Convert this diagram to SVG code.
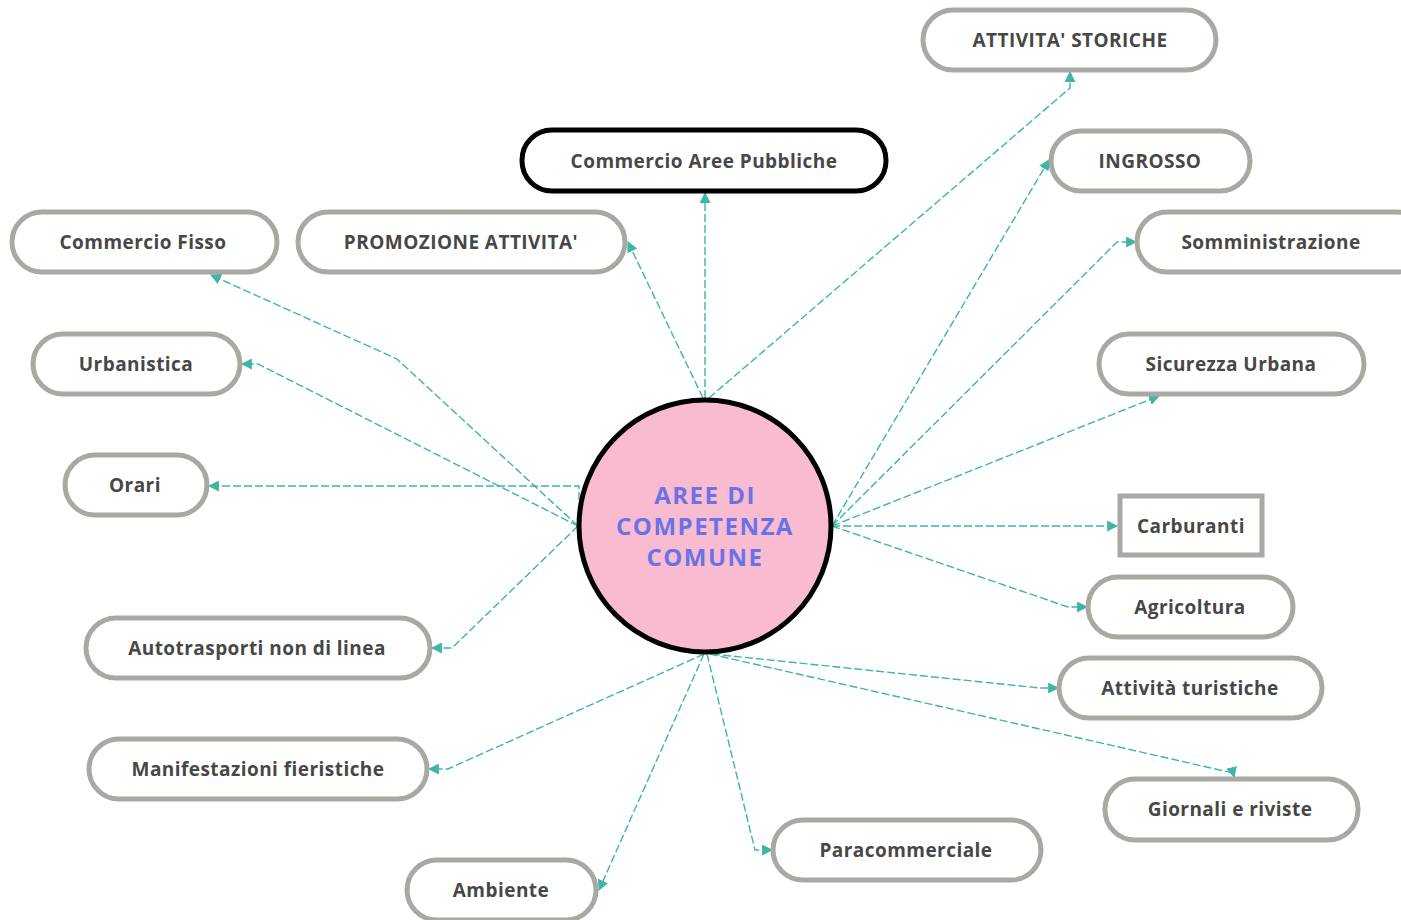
<svg xmlns="http://www.w3.org/2000/svg" width="1401" height="920" viewBox="0 0 1401 920">
<style>
.pill{fill:#ffffff;stroke:#a9a8a2;stroke-width:5}
.dark{fill:#ffffff;stroke:#000000;stroke-width:5}
.lbl{font-family:"Open Sans","Liberation Sans",sans-serif;font-weight:700;font-size:19px;letter-spacing:0.45px;fill:#474747;text-anchor:middle;dominant-baseline:central}
.ctr{font-family:"Open Sans","Liberation Sans",sans-serif;font-weight:700;font-size:24px;letter-spacing:1.5px;fill:#6b72e8;text-anchor:middle;dominant-baseline:central}
.con{fill:none;stroke:#3db5a7;stroke-width:1.4;stroke-dasharray:8 3;marker-end:url(#arr)}
</style>
<defs>
<marker id="arr" viewBox="0 0 10 10" refX="9" refY="5" markerWidth="11" markerHeight="11" markerUnits="userSpaceOnUse" orient="auto">
<path d="M0,0 L10,5 L0,10 Z" fill="#3db5a7"/>
</marker>
</defs>
<rect width="1401" height="920" fill="#ffffff"/>
<g id="connectors">
<path class="con" d="M705,398 L705,193"/>
<path class="con" d="M703,398 L628,242"/>
<path class="con" d="M709,398 L1070,88 L1070,72"/>
<path class="con" d="M578,526 L397,359 L211,275"/>
<path class="con" d="M578,526 L258,364 L242,364"/>
<path class="con" d="M579,500 L579,486 L209,486"/>
<path class="con" d="M578,526 L452,648 L432,648"/>
<path class="con" d="M704,654 L448,769 L429,769"/>
<path class="con" d="M704,654 L599,890"/>
<path class="con" d="M707,654 L755,850 L772,850"/>
<path class="con" d="M710,654 L1233,773 L1234,777"/>
<path class="con" d="M712,654 L1040,688 L1058,688"/>
<path class="con" d="M832,526 L1068,607 L1087,607"/>
<path class="con" d="M832,526 L1117,526"/>
<path class="con" d="M832,526 L1159,396"/>
<path class="con" d="M832,526 L1117,242 L1136,242"/>
<path class="con" d="M832,526 L1049,160"/>
</g>
<g id="center">
<circle cx="705" cy="526" r="126" fill="#f9bbd0" stroke="#000000" stroke-width="5"/>
<text class="ctr" x="705" y="494">AREE DI</text>
<text class="ctr" x="705" y="525">COMPETENZA</text>
<text class="ctr" x="705" y="556">COMUNE</text>
</g>
<g id="n-attivita-storiche"><rect class="pill" x="923" y="10" width="293" height="60" rx="30"/><text class="lbl" x="1070" y="40">ATTIVITA' STORICHE</text></g>
<g id="n-commercio-aree"><rect class="dark" x="522" y="130" width="364" height="61" rx="30"/><text class="lbl" x="704" y="161">Commercio Aree Pubbliche</text></g>
<g id="n-ingrosso"><rect class="pill" x="1051" y="131" width="199" height="60" rx="30"/><text class="lbl" x="1150" y="161">INGROSSO</text></g>
<g id="n-commercio-fisso"><rect class="pill" x="12" y="212" width="265" height="60" rx="30"/><text class="lbl" x="143" y="242">Commercio Fisso</text></g>
<g id="n-promozione"><rect class="pill" x="298" y="212" width="327" height="60" rx="30"/><text class="lbl" x="461" y="242">PROMOZIONE ATTIVITA'</text></g>
<g id="n-somministrazione"><rect class="pill" x="1137" y="212" width="290" height="60" rx="30"/><text class="lbl" x="1271" y="242">Somministrazione</text></g>
<g id="n-urbanistica"><rect class="pill" x="33" y="334" width="207" height="60" rx="30"/><text class="lbl" x="136" y="364">Urbanistica</text></g>
<g id="n-sicurezza"><rect class="pill" x="1099" y="334" width="265" height="60" rx="30"/><text class="lbl" x="1231" y="364">Sicurezza Urbana</text></g>
<g id="n-orari"><rect class="pill" x="65" y="455" width="142" height="60" rx="30"/><text class="lbl" x="135" y="485">Orari</text></g>
<g id="n-carburanti"><rect class="pill" x="1120" y="496" width="142" height="59"/><text class="lbl" x="1191" y="526">Carburanti</text></g>
<g id="n-agricoltura"><rect class="pill" x="1088" y="577" width="205" height="60" rx="30"/><text class="lbl" x="1190" y="607">Agricoltura</text></g>
<g id="n-autotrasporti"><rect class="pill" x="86" y="618" width="344" height="60" rx="30"/><text class="lbl" x="257" y="648">Autotrasporti non di linea</text></g>
<g id="n-turistiche"><rect class="pill" x="1059" y="658" width="263" height="60" rx="30"/><text class="lbl" x="1190" y="688">Attività turistiche</text></g>
<g id="n-manifestazioni"><rect class="pill" x="89" y="739" width="338" height="60" rx="30"/><text class="lbl" x="258" y="769">Manifestazioni fieristiche</text></g>
<g id="n-giornali"><rect class="pill" x="1105" y="779" width="253" height="61" rx="30"/><text class="lbl" x="1230" y="809">Giornali e riviste</text></g>
<g id="n-paracommerciale"><rect class="pill" x="773" y="820" width="268" height="60" rx="30"/><text class="lbl" x="906" y="850">Paracommerciale</text></g>
<g id="n-ambiente"><rect class="pill" x="407" y="860" width="189" height="60" rx="30"/><text class="lbl" x="501" y="890">Ambiente</text></g>
</svg>
